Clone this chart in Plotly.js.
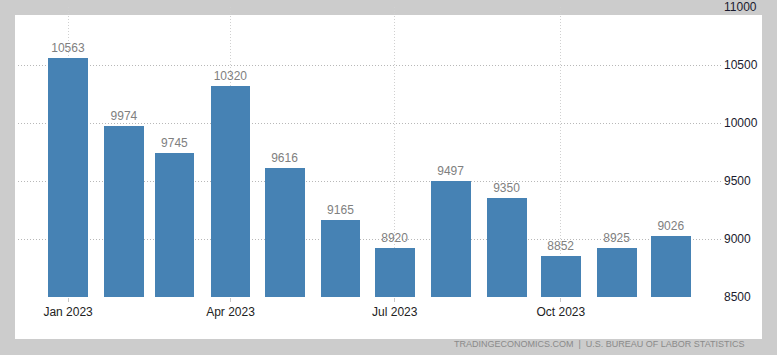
<!DOCTYPE html>
<html>
<head>
<meta charset="utf-8">
<script src="https://cdn.plot.ly/plotly-3.0.1.min.js"></script>
<style>html,body{margin:0;padding:0;background:#cccccc;}#chart{width:777px;height:355px;}</style>
</head>
<body>
<div id="chart"></div>
<script>
const months = ['2023-01-01','2023-02-01','2023-03-01','2023-04-01','2023-05-01','2023-06-01','2023-07-01','2023-08-01','2023-09-01','2023-10-01','2023-11-01','2023-12-01'];
const values = [10563, 9974, 9745, 10320, 9616, 9165, 8920, 9497, 9350, 8852, 8925, 9026];
const xTickVals = ['2023-01-01','2023-04-01','2023-07-01','2023-10-01'];
const xTickText = ['Jan 2023','Apr 2023','Jul 2023','Oct 2023'];
const yTickVals = [8500, 9000, 9500, 10000, 10500, 11000];
const yTickText = ['8500','9000','9500','10000','10500','11000'];
const sourceText = 'TRADINGECONOMICS.COM  |  U.S. BUREAU OF LABOR STATISTICS';

const DAY = 86400000;
const trace = {
  type: 'bar',
  x: months,
  y: values,
  width: months.map(() => 22 * DAY),
  marker: {color: '#4682b4', line: {width: 0}},
  text: values.map(String),
  textposition: 'outside',
  textfont: {family: 'Liberation Sans, Arial, sans-serif', size: 12, color: '#808080'},
  cliponaxis: false,
  hoverinfo: 'x+y'
};

const layout = {
  width: 777, height: 355,
  margin: {l: 18, r: 56, t: 7, b: 58},
  paper_bgcolor: '#cccccc',
  plot_bgcolor: 'rgba(0,0,0,0)',
  showlegend: false,
  bargap: 0,
  font: {family: 'Liberation Sans, Arial, sans-serif', size: 12, color: '#222'},
  xaxis: {
    type: 'date',
    range: ['2022-12-04 06:00', '2023-12-28 18:00'],
    tickvals: xTickVals,
    ticktext: xTickText,
    showgrid: true, gridcolor: '#d0d0d0', griddash: '1px,2px', gridwidth: 1,
    ticks: 'outside', ticklen: 4, tickcolor: '#c8c8c8',
    showline: false, zeroline: false,
    tickfont: {size: 12, color: '#222'}
  },
  yaxis: {
    side: 'right',
    range: [8500, 11000],
    tickvals: yTickVals,
    ticktext: yTickText,
    showgrid: true, gridcolor: '#b8b8b8', griddash: '1px,2px', gridwidth: 1,
    zeroline: false, showline: false,
    ticks: '', ticklabelstandoff: 2,
    tickfont: {size: 12, color: '#1a1a2e'}
  },
  shapes: [{
    type: 'rect', xref: 'paper', yref: 'paper', layer: 'below',
    x0: -3/703, x1: 744/703, y0: -42/290, y1: 282/290,
    fillcolor: '#ffffff', line: {width: 0}
  }],
  annotations: [{
    text: sourceText, xref: 'paper', yref: 'paper',
    x: 729/703, y: -47/290, xanchor: 'right', yanchor: 'middle',
    showarrow: false,
    font: {family: 'Liberation Sans, Arial, sans-serif', size: 9, color: '#8a8a8a'}
  }]
};

Plotly.newPlot('chart', [trace], layout, {displayModeBar: false, staticPlot: true});
</script>
</body>
</html>
